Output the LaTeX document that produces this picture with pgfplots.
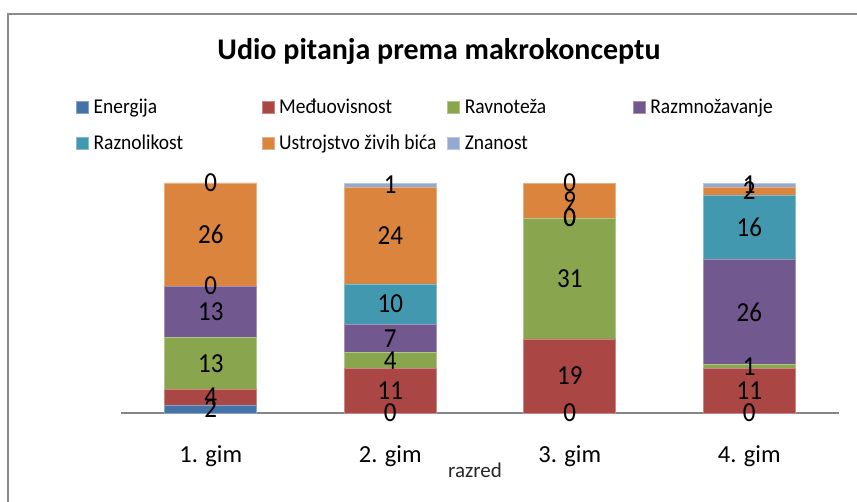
\documentclass[border=0pt]{standalone}
\usepackage{pgfplots}
\usepackage{pgfplotstable}
\pgfplotsset{compat=1.18}
\usepackage{fontspec}
\setmainfont{Carlito}
\definecolor{cE}{HTML}{4572A7}
\definecolor{cM}{HTML}{AA4643}
\definecolor{cR}{HTML}{89A54E}
\definecolor{cZ}{HTML}{71588F}
\definecolor{cD}{HTML}{4198AF}
\definecolor{cU}{HTML}{DB843D}
\definecolor{cN}{HTML}{93A9CF}
\definecolor{framegray}{HTML}{8C8C8C}
\definecolor{axisgray}{HTML}{868686}

% raw counts per class (T = total of the bar)
\pgfplotstableread{
x T  E  M  R  Z  D  U  N
0 58 2  4  13 13 0  26 0
1 57 0  11 4  7  10 24 1
2 59 0  19 31 0  0  9  0
3 57 0  11 1  26 16 2  1
}\counts

% label positions (percent, centre of each segment) and shown values
\pgfplotstableread{
x y lab
0 1.724 2
0 6.897 4
0 21.552 13
0 43.966 13
0 55.172 0
0 77.586 26
0 100 0
1 0 0
1 9.649 11
1 22.807 4
1 32.456 7
1 47.368 10
1 77.193 24
1 99.123 1
2 0 0
2 16.102 19
2 58.475 31
2 84.746 0
2 84.746 0
2 92.373 9
2 100 0
3 0 0
3 9.649 11
3 20.175 1
3 43.860 26
3 80.702 16
3 96.491 2
3 99.123 1
}\labels

\newcommand{\lt}[1]{\makebox[168bp][l]{\rule[-5bp]{0pt}{19bp}\scalebox{1}[1.08]{#1}}}

\begin{document}
\begin{tikzpicture}
\useasboundingbox (0,0) rectangle (857bp,502bp);
\fill[white] (0,0) rectangle (857bp,502bp);
\draw[framegray, line width=2bp] (8bp,0) -- (8bp,488bp) -- (857bp,488bp);

\begin{axis}[
  at={(121bp,89bp)}, anchor=south west,
  width=718bp, height=230bp, scale only axis,
  xmin=-0.5, xmax=3.5, ymin=0, ymax=100,
  ybar stacked, bar width=92bp,
  axis x line*=bottom, axis y line=none,
  x axis line style={draw=axisgray, line width=1.5bp},
  xtick={0,1,2,3}, xticklabels={1. gim,2. gim,3. gim,4. gim},
  major tick length=0pt,
  xticklabel style={anchor=base, yshift=-49bp, font=\fontsize{24.5bp}{28bp}\selectfont},
  clip=false,
  legend columns=4,
  legend cell align=left,
  legend style={at={(axis description cs:-0.0627,1.365)}, anchor=north west,
    draw=none, fill=none, inner sep=0pt, outer sep=0pt, row sep=20bp,
    nodes={inner sep=0pt, outer sep=0pt},
    font=\fontsize{19.5bp}{23bp}\selectfont,
    /tikz/every odd column/.style={column sep=5bp},
    /tikz/every even column/.style={column sep=0bp}},
  legend image code/.code={\fill[#1] (0bp,-6bp) rectangle (12bp,6bp);},
]
\addplot[fill=cE, draw=cE!65!white, line width=0.6bp] table[x=x, y expr=\thisrow{E}/\thisrow{T}*100] {\counts};
\addlegendentry{\lt{Energija}}
\addplot[fill=cM, draw=cM!65!white, line width=0.6bp] table[x=x, y expr=\thisrow{M}/\thisrow{T}*100] {\counts};
\addlegendentry{\lt{Međuovisnost}}
\addplot[fill=cR, draw=cR!65!white, line width=0.6bp] table[x=x, y expr=\thisrow{R}/\thisrow{T}*100] {\counts};
\addlegendentry{\lt{Ravnoteža}}
\addplot[fill=cZ, draw=cZ!65!white, line width=0.6bp] table[x=x, y expr=\thisrow{Z}/\thisrow{T}*100] {\counts};
\addlegendentry{\lt{Razmnožavanje}}
\addplot[fill=cD, draw=cD!65!white, line width=0.6bp] table[x=x, y expr=\thisrow{D}/\thisrow{T}*100] {\counts};
\addlegendentry{\lt{Raznolikost}}
\addplot[fill=cU, draw=cU!65!white, line width=0.6bp] table[x=x, y expr=\thisrow{U}/\thisrow{T}*100] {\counts};
\addlegendentry{\lt{Ustrojstvo živih bića}}
\addplot[fill=cN, draw=cN!65!white, line width=0.6bp] table[x=x, y expr=\thisrow{N}/\thisrow{T}*100] {\counts};
\addlegendentry{\lt{Znanost}}
\end{axis}

\begin{axis}[
  at={(121bp,89bp)}, anchor=south west,
  width=718bp, height=230bp, scale only axis,
  xmin=-0.5, xmax=3.5, ymin=0, ymax=100,
  hide axis, clip=false,
]
\addplot[draw=none, mark=none, nodes near coords={\scalebox{1}[1.1]{\pgfplotspointmeta}}, point meta=explicit symbolic,
  nodes near coords style={anchor=center, inner sep=0pt, font=\fontsize{25bp}{28bp}\selectfont, text=black}]
  table[x=x, y=y, meta=lab] {\labels};
\end{axis}

\node[anchor=base, font=\fontsize{30bp}{34bp}\selectfont\bfseries] at (439bp,442bp) {Udio pitanja prema makrokonceptu};
\node[anchor=base, font=\fontsize{21bp}{24bp}\selectfont, text=black!85] at (475bp,25bp) {razred};
\end{tikzpicture}
\end{document}
